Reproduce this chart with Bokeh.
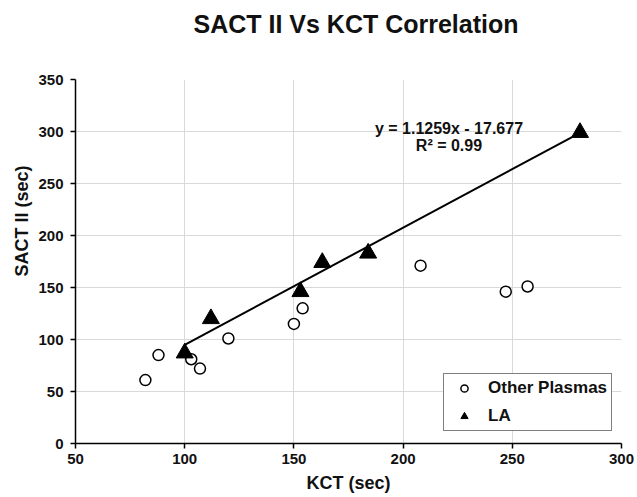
from bokeh.plotting import figure
from bokeh.models import Range1d, SingleIntervalTicker, Label, Legend, LegendItem, Title
from bokeh.embed import file_html
from bokeh.resources import INLINE

# ---- data ----
other_kct = [82, 88, 103, 107, 120, 150, 154, 208, 247, 257]
other_sact = [61, 85, 81, 72, 101, 115, 130, 171, 146, 151]
la_kct = [100, 112, 153, 163, 184, 281]
la_sact = [87, 120, 146, 174, 183, 299]
slope = 1.1259
intercept = -17.677
r_squared = 0.99

title_text = "SACT II Vs KCT Correlation"
x_label = "KCT (sec)"
y_label = "SACT II (sec)"

FONT = "Liberation Sans"
TXT = "#111111"

p = figure(width=637, height=497, output_backend="svg", toolbar_location=None,
           x_range=Range1d(50, 300), y_range=Range1d(0, 350),
           min_border_left=75, min_border_right=16, min_border_top=78, min_border_bottom=54)
p.outline_line_color = None
p.background_fill_color = "white"
p.border_fill_color = "white"

p.title.text = title_text + "\n "
p.title.align = "left"
p.title.offset = 118
p.title.standoff = 14
p.title.text_line_height = 1.25
p.title.text_font = FONT
p.title.text_font_style = "bold"
p.title.text_font_size = "25px"
p.title.text_color = TXT

for ax in (p.xaxis[0], p.yaxis[0]):
    ax.ticker = SingleIntervalTicker(interval=50)
    ax.axis_line_color = "black"
    ax.axis_line_width = 1.5
    ax.major_tick_line_color = "black"
    ax.major_tick_line_width = 1.5
    ax.major_tick_out = 5
    ax.major_tick_in = 0
    ax.minor_tick_line_color = None
    ax.major_label_text_font = FONT
    ax.major_label_text_font_style = "bold"
    ax.major_label_text_font_size = "15px"
    ax.major_label_text_color = TXT
p.xaxis.major_label_standoff = 5
p.yaxis.major_label_standoff = 7

p.xaxis.axis_label = x_label
p.xaxis.axis_label_standoff = 6
p.xaxis.axis_label_text_font = FONT
p.xaxis.axis_label_text_font_style = "bold"
p.xaxis.axis_label_text_font_size = "18px"
p.xaxis.axis_label_text_color = TXT

ytitle = Title(text=y_label, align="right", offset=86, standoff=8,
               text_font=FONT, text_font_style="bold", text_font_size="18px", text_color=TXT)
p.add_layout(ytitle, "left")

p.grid.grid_line_color = "#d9d9d9"
p.grid.grid_line_width = 1
p.xgrid.ticker = SingleIntervalTicker(interval=50)
p.ygrid.ticker = SingleIntervalTicker(interval=50)

# trend line over LA range
tx = [min(la_kct), max(la_kct)]
ty = [slope * v + intercept for v in tx]
p.line(tx, ty, line_color="black", line_width=2)

r_other = p.scatter(other_kct, other_sact, marker="circle", size=11,
                    fill_color="white", line_color="black", line_width=1.5)
r_la = p.scatter(la_kct, la_sact, marker="triangle", size=17,
                 fill_color="black", line_color="black")

legend = Legend(items=[LegendItem(label="Other Plasmas", renderers=[r_other]),
                       LegendItem(label="LA", renderers=[r_la])],
                location=(368, 12))
legend.label_text_font = FONT
legend.label_text_font_style = "bold"
legend.label_text_font_size = "17px"
legend.label_text_color = TXT
legend.border_line_color = "black"
legend.border_line_width = 1.5
legend.background_fill_alpha = 1
legend.padding = 4
legend.spacing = 8
legend.label_height = 18
legend.glyph_height = 18
legend.glyph_width = 32
legend.label_standoff = 8
legend.margin = 0
p.add_layout(legend, "center")

eq_text = "y = %.4fx - %.3f" % (slope, abs(intercept))
r2_text = "R² = %.2f" % r_squared
p.add_layout(Label(x=221, y=303, text=eq_text, text_align="center", text_baseline="middle",
                   text_font=FONT, text_font_style="bold", text_font_size="16px", text_color=TXT))
p.add_layout(Label(x=221, y=287, text=r2_text, text_align="center", text_baseline="middle",
                   text_font=FONT, text_font_style="bold", text_font_size="16px", text_color=TXT))

open("out.html", "w").write(file_html(p, INLINE))
